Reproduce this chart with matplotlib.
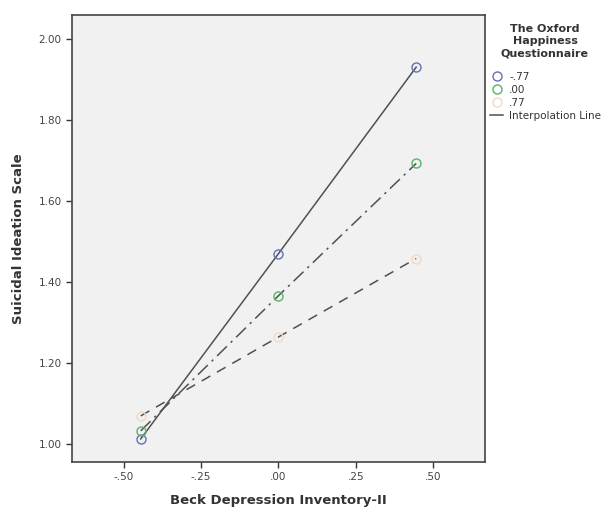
import matplotlib.pyplot as plt
from matplotlib.lines import Line2D

# Beck Depression Inventory-II (centered) at low / mean / high
bdi = [-0.445, 0.0, 0.445]

# Oxford Happiness Questionnaire levels
ohq_labels = ['-.77', '.00', '.77']
si_low_ohq = [1.012, 1.470, 1.931]
si_mid_ohq = [1.032, 1.366, 1.693]
si_high_ohq = [1.069, 1.264, 1.458]

x_ticks = [-0.50, -0.25, 0.0, 0.25, 0.50]
x_tick_labels = ['-.50', '-.25', '.00', '.25', '.50']
y_ticks = [1.00, 1.20, 1.40, 1.60, 1.80, 2.00]
y_tick_labels = ['1.00', '1.20', '1.40', '1.60', '1.80', '2.00']

marker_colors = ['#6470b5', '#55b565', '#f3d9c4']
line_styles = ['-', (0, (9, 3.5, 1.5, 3.5)), (0, (6.5, 5))]
line_color = '#505050'

fig = plt.figure(figsize=(6.13, 5.12), dpi=100)
ax = fig.add_axes([0.1175, 0.0977, 0.6735, 0.873])
ax.set_facecolor('#f1f1f1')

for ys, mc, ls in zip([si_low_ohq, si_mid_ohq, si_high_ohq], marker_colors, line_styles):
    ax.plot(bdi, ys, color=line_color, linestyle=ls, linewidth=1.1, zorder=2)
    ax.plot(bdi, ys, linestyle='none', marker='o', markersize=6.5,
            markerfacecolor='none', markeredgecolor=mc, markeredgewidth=1.0, zorder=3)

ax.set_xlim(-0.667, 0.667)
ax.set_ylim(0.955, 2.06)
ax.set_xticks(x_ticks)
ax.set_xticklabels(x_tick_labels)
ax.set_yticks(y_ticks)
ax.set_yticklabels(y_tick_labels)
ax.tick_params(direction='out', length=4, width=1, colors='#333333', labelsize=7.5, labelcolor='#444444')

for s in ax.spines.values():
    s.set_color('#444444')
    s.set_linewidth(1.2)

ax.set_xlabel('Beck Depression Inventory-II', fontsize=9.5, fontweight='bold', color='#333333', labelpad=8)
ax.set_ylabel('Suicidal Ideation Scale', fontsize=9.5, fontweight='bold', color='#333333', labelpad=10)

# legend title drawn separately so it can be centred like the original
fig.text(0.889, 0.953, 'The Oxford\nHappiness\nQuestionnaire', ha='center', va='top',
         fontsize=8, fontweight='bold', color='#333333', linespacing=1.3, multialignment='center')

handles = [Line2D([], [], linestyle='none', marker='o', markersize=6.5, markerfacecolor='none',
                  markeredgecolor=c, markeredgewidth=1.0) for c in marker_colors]
handles.append(Line2D([], [], color=line_color, linewidth=1.1))
labels = ohq_labels + ['Interpolation Line']

leg = fig.legend(handles, labels, loc='upper left', bbox_to_anchor=(0.8, 0.86),
                 bbox_transform=fig.transFigure, frameon=False,
                 fontsize=7.5, handlelength=1.2, handletextpad=0.6,
                 labelspacing=0.3, borderaxespad=0, borderpad=0)
for t in leg.get_texts():
    t.set_color('#333333')

fig.savefig('out.png', dpi=100)
